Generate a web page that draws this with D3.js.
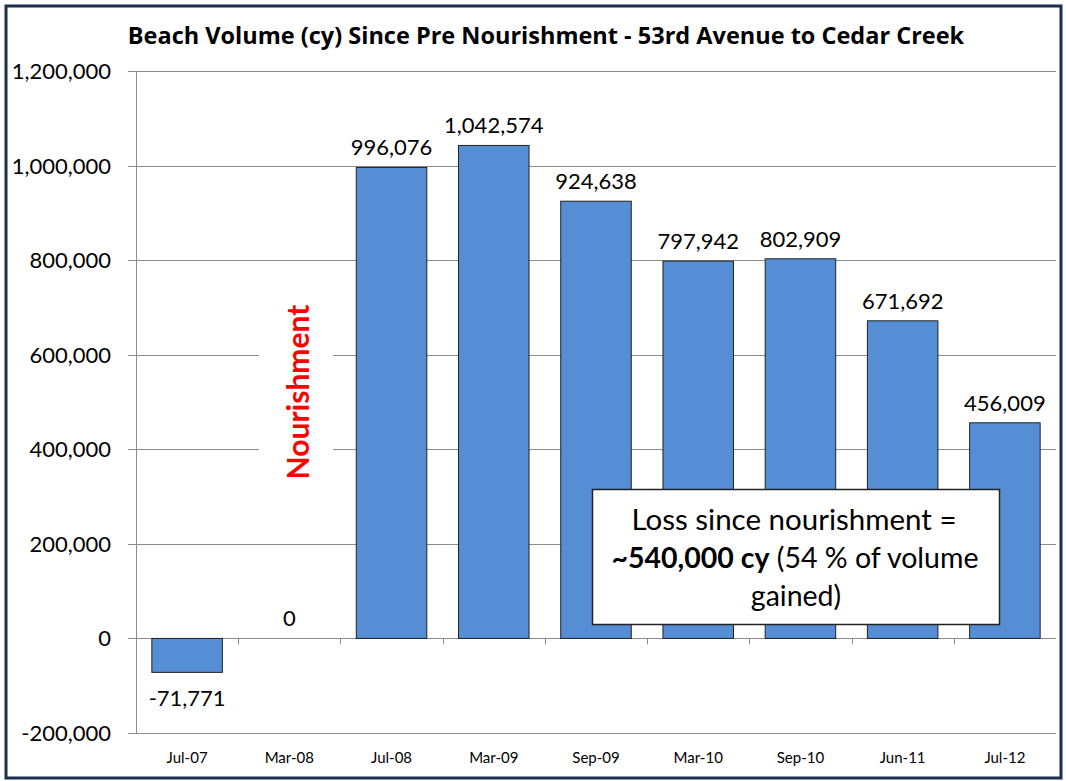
<!DOCTYPE html>
<html>
<head>
<meta charset="utf-8">
<script src="https://cdn.jsdelivr.net/npm/d3@7"></script>
<style>
  body { margin: 0; background: #fff; }
  svg text { font-family: Lato, "Open Sans", sans-serif; fill: #000; }
</style>
</head>
<body>
<svg width="1066" height="781"></svg>
<script>
var categories = ["Jul-07","Mar-08","Jul-08","Mar-09","Sep-09","Mar-10","Sep-10","Jun-11","Jul-12"];
var volumes = [-71771, 0, 996076, 1042574, 924638, 797942, 802909, 671692, 456009];
var yTicks = [-200000, 0, 200000, 400000, 600000, 800000, 1000000, 1200000];
var noteLines = ["Loss since nourishment =", "~540,000 cy", " (54 % of volume", "gained)"];

var svg = d3.select("svg"),
    width = +svg.attr("width"),
    height = +svg.attr("height");

// plain hyphen for negatives, like the original
var fmt = d3.formatLocale({decimal: ".", thousands: ",", grouping: [3], currency: ["$", ""], minus: "-"}).format(",");

// outer frame
svg.append("rect")
    .attr("x", 6).attr("y", 6)
    .attr("width", 1055).attr("height", 772)
    .attr("fill", "#fff")
    .attr("stroke", "#1b2f4e")
    .attr("stroke-width", 3);

var x = d3.scaleBand()
    .domain(categories)
    .range([136, 1056])
    .paddingInner(0.31)
    .paddingOuter(0.155);

var y = d3.scaleLinear()
    .domain([-200000, 1200000])
    .range([733, 71]);

// gridlines
svg.append("g")
    .selectAll("line")
    .data(yTicks)
    .enter().append("line")
    .attr("x1", 128)
    .attr("x2", 1056)
    .attr("y1", function(d) { return Math.round(y(d)) + 0.5; })
    .attr("y2", function(d) { return Math.round(y(d)) + 0.5; })
    .attr("stroke", "#8c8c8c")
    .attr("stroke-width", 1);

// y axis line
svg.append("line")
    .attr("x1", 136.5).attr("x2", 136.5)
    .attr("y1", y(1200000)).attr("y2", y(-200000))
    .attr("stroke", "#8c8c8c");

// y labels
svg.append("g")
    .selectAll("text")
    .data(yTicks)
    .enter().append("text")
    .attr("x", 111)
    .attr("y", function(d) { return y(d) + 8; })
    .attr("text-anchor", "end")
    .style("font-size", "22px")
    .text(function(d) { return fmt(d); });

// x ticks at category boundaries
var step = x.step();
var bounds = d3.range(1, categories.length).map(function(i) { return 136 + i * step; });
svg.append("g")
    .selectAll("line")
    .data(bounds)
    .enter().append("line")
    .attr("x1", function(d) { return Math.round(d) + 0.5; })
    .attr("x2", function(d) { return Math.round(d) + 0.5; })
    .attr("y1", y(0))
    .attr("y2", y(0) + 6)
    .attr("stroke", "#8c8c8c");

// bars (the 0 value draws nothing)
svg.append("g")
    .selectAll("rect")
    .data(volumes.filter(function(d) { return d !== 0; }))
    .enter().append("rect")
    .attr("x", function(d) { return x(categories[volumes.indexOf(d)]); })
    .attr("width", x.bandwidth())
    .attr("y", function(d) { return y(Math.max(0, d)); })
    .attr("height", function(d) { return Math.abs(y(d) - y(0)); })
    .attr("fill", "#568ed5")
    .attr("stroke", "#222")
    .attr("stroke-width", 1);

// value labels
svg.append("g")
    .selectAll("text")
    .data(volumes)
    .enter().append("text")
    .attr("x", function(d, i) { return x(categories[i]) + x.bandwidth() / 2; })
    .attr("y", function(d) { return d < 0 ? y(d) + 34 : y(d) - 12; })
    .attr("text-anchor", "middle")
    .style("font-size", "22px")
    .text(function(d) { return fmt(d); });

// x labels
svg.append("g")
    .selectAll("text")
    .data(categories)
    .enter().append("text")
    .attr("x", function(d) { return x(d) + x.bandwidth() / 2; })
    .attr("y", 763)
    .attr("text-anchor", "middle")
    .style("font-size", "15px")
    .text(function(d) { return d; });

// title
svg.append("text")
    .attr("x", 546)
    .attr("y", 44)
    .attr("text-anchor", "middle")
    .style("font-family", "'Open Sans', sans-serif")
    .style("font-size", "23.5px")
    .style("font-weight", "bold")
    .text("Beach Volume (cy) Since Pre Nourishment - 53rd Avenue to Cedar Creek");

// nourishment label sits on a white patch that hides the gridlines
svg.append("rect")
    .attr("x", 259).attr("y", 290)
    .attr("width", 74).attr("height", 205)
    .attr("fill", "#fff");

svg.append("text")
    .attr("transform", "translate(309,392) rotate(-90)")
    .attr("text-anchor", "middle")
    .style("font-size", "30px")
    .style("font-weight", "bold")
    .style("fill", "#ff0000")
    .text("Nourishment");

// note box
svg.append("rect")
    .attr("x", 592.5).attr("y", 489.5)
    .attr("width", 407).attr("height", 135)
    .attr("fill", "#fff")
    .attr("stroke", "#222")
    .attr("stroke-width", 1.5);

var note = svg.append("text")
    .attr("text-anchor", "middle")
    .style("font-size", "28.5px");

note.append("tspan").attr("x", 794).attr("y", 530).style("font-size", "29.5px").text(noteLines[0]);
var l2 = note.append("tspan").attr("x", 795).attr("y", 568);
l2.append("tspan").style("font-weight", "bold").text(noteLines[1]);
l2.append("tspan").text(noteLines[2]);
note.append("tspan").attr("x", 796).attr("y", 606).text(noteLines[3]);
</script>
</body>
</html>
